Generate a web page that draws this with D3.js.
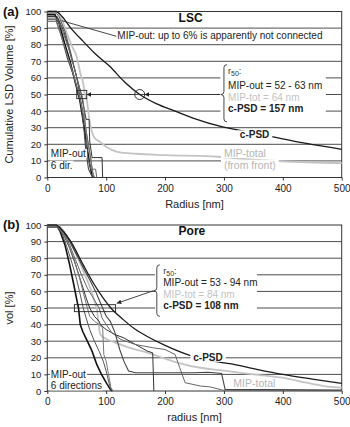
<!DOCTYPE html>
<html><head><meta charset="utf-8">
<script src="https://cdn.jsdelivr.net/npm/d3@7"></script>
<style>
body{margin:0;background:#fff}
svg{display:block}
text{font-family:"Liberation Sans",Arial,Helvetica,sans-serif}
</style>
</head><body>
<svg id="c" width="350" height="427"></svg>
<script>
// ---------- data ----------
const xTicks = [0, 100, 200, 300, 400, 500];
const yTicks = [0, 10, 20, 30, 40, 50, 60, 70, 80, 90, 100];

// Panel (a) LSC
const aCPSD = [[0,100],[15,100],[25,97],[40,90],[61,82],[80,75],[106,67],[130,58],[157,50],[185,44.5],[217,40],[250,35.5],[296,30.6],[340,27.5],[381,24.6],[440,20.5],[500,17]];
const aMIPtotal = [[0,100],[15,100],[25,95],[33,87],[42,79],[50,72.8],[56,63],[61,56.7],[64,50],[67,46.7],[71,36],[75,28.6],[80,24],[89,21.6],[100,18.5],[119,15.5],[150,14.3],[203,13.5],[290,12.5],[340,11],[398,9.8],[500,8.6]];
const aMIPout = [
  [[0,98],[13,98],[20,93],[30,80],[38,71],[47,58],[55,47],[62,32],[67,19],[72,8],[76,1],[78,0]],
  [[0,99],[15,99],[20,97],[30,88],[40,75],[50,60],[55,50],[60,40],[65,30],[70,20],[75,8],[78,2],[80,0]],
  [[0,97],[17,97],[28,88],[38,76],[48,63],[57,51],[62,42],[66,35],[71,35],[72,22],[76,12],[93,12],[94,0]],
  [[0,96],[16,96],[26,88],[36,78],[46,66],[54,55],[60,48],[63,40],[66,25],[68,13],[72,8],[74,5],[82,5],[84,0]],
  [[0,95],[15,95],[24,85],[34,72],[44,62],[52,52],[58,43],[62,30],[65,18],[68,10],[70,5],[74,2],[80,0]],
  [[0,94],[15,94],[22,87],[32,76],[42,65],[50,55],[56,47],[61,38],[66,28],[69,20],[72,15],[74,12],[76,5],[78,0]]
];
const aRect = [50, 67, 47.5, 52.5];
const aLeader = [[24,94.5],[118,85]];
const aCircle = [157, 50];

// Panel (b) Pore
const bCPSD = [[0,100],[15,100],[25,97],[40,90],[61,76],[80,64],[95,56],[108,50],[129,43],[150,37],[169,33],[200,27.5],[242,21.5],[290,17.5],[310,16.5],[350,13.5],[400,10],[450,7.2],[500,4.6]];
const bMIPtotal = [[0,100],[17,100],[28,96],[40,89],[52,80],[64,70],[75,60],[82,52],[84,50],[86,44],[90,34],[104,30.7],[120,28.5],[140,26],[174,22.7],[200,19.5],[225,16.7],[260,14],[293,12.6],[350,10],[406,7.6],[440,5],[470,3],[500,2]];
const bMIPout = [
  [[0,99],[17,99],[22,96],[30,88],[38,76],[45,64],[50,55],[53,50],[56,40],[60,36],[68,30],[76,24],[84,16],[92,10],[100,5],[107,1],[110,0]],
  [[0,99],[17,99],[25,95],[33,87],[42,77],[50,67],[56,58],[61,50],[66,44],[72,37],[80,30],[88,24],[95,18],[100,12],[104,6],[108,1],[111,0]],
  [[0,99],[18,99],[28,94],[38,86],[48,76],[58,65],[66,56],[72,50],[80,45],[88,42],[90,40],[100,37],[115,34],[130,32],[150,28],[170,24],[179,23],[181,0]],
  [[0,99],[18,99],[28,95],[38,88],[48,79],[58,70],[68,62],[78,56],[88,50],[93,44],[100,40],[110,35],[125,31],[150,28],[180,26],[200,25],[217,22],[225,14],[234,5],[260,3],[276,2.5],[298,0.5],[500,0.3]],
  [[0,99],[18,99],[28,96],[38,90],[50,82],[60,75],[72,67],[82,60],[88,55],[94,50],[100,45],[107,42],[115,35],[123,25],[130,18],[138,12],[150,11],[200,11],[250,11],[273,11.3],[296,10.5],[302,1],[500,0.6]],
  [[0,99],[18,99],[26,95],[35,89],[45,80],[55,68],[62,58],[68,50],[72,45],[80,42],[88,40],[94,38],[96,22],[100,18],[105,8],[108,2],[112,0]]
];
const bRect = [46, 116, 47.8, 52];
const bArrow = [[180,60.4],[118,52.8]];

const mipColors = ["#111","#555","#333","#666","#444","#777"];
const mipWidths = [1.6,1,1,1,1.1,1];

// ---------- drawing ----------
const svg = d3.select("#c");
const x = d3.scaleLinear().domain([0,500]).range([47.3,341.7]);

svg.append("defs").append("marker")
  .attr("id","arr").attr("viewBox","0 0 10 10").attr("refX",10).attr("refY",5)
  .attr("markerWidth",5).attr("markerHeight",5).attr("orient","auto-start-reverse")
  .append("path").attr("d","M0,0L10,5L0,10z").attr("fill","#222");

function label(g, px, py, txt, o={}) {
  const t = g.append("text").attr("x",px).attr("y",py)
    .attr("font-size",o.size||10).attr("font-weight",o.bold?"bold":"normal")
    .attr("fill",o.color||"#222").text(txt);
  if (o.bg) {
    const b = t.node().getBBox();
    const p = o.pad||1;
    g.insert("rect", () => t.node())
      .attr("x",b.x-p).attr("y",b.y+1).attr("width",b.width+2*p).attr("height",b.height-2).attr("fill","#fff");
  }
  return t;
}

function brace(g, bx, y1, y2, ty, w) {
  const d = `M${bx+w},${y1} Q${bx},${y1} ${bx},${y1+w} L${bx},${ty-w} Q${bx},${ty} ${bx-w},${ty} Q${bx},${ty} ${bx},${ty+w} L${bx},${y2-w} Q${bx},${y2} ${bx+w},${y2}`;
  g.append("path").attr("d",d).attr("fill","none").attr("stroke","#333").attr("stroke-width",0.9);
}

function panel(cfg) {
  const y = d3.scaleLinear().domain([0,100]).range([cfg.bottom, cfg.top]);
  const g = svg.append("g");
  g.selectAll(".grid").data(yTicks.slice(1,-1)).join("line")
    .attr("x1",x(0)).attr("x2",x(500)).attr("y1",d=>y(d)).attr("y2",d=>y(d))
    .attr("stroke","#4d4d4d").attr("stroke-width",1);
  const ya = g.append("g").attr("transform",`translate(${x(0)},0)`)
    .call(d3.axisLeft(y).tickValues(yTicks).tickSize(3).tickPadding(3));
  ya.select(".domain").remove();
  ya.selectAll("text").attr("font-size",9.5).attr("fill","#222").attr("font-family","Liberation Sans, Arial, sans-serif");
  ya.selectAll("line").attr("stroke","#333");
  const xa = g.append("g").attr("transform",`translate(0,${y(0)})`)
    .call(d3.axisBottom(x).tickValues(xTicks).tickSize(3).tickPadding(4));
  xa.select(".domain").remove();
  xa.selectAll("text").attr("font-size",10).attr("fill","#222").attr("font-family","Liberation Sans, Arial, sans-serif");
  xa.selectAll("line").attr("stroke","#333");
  g.append("rect").attr("x",x(0)).attr("y",y(100)).attr("width",x(500)-x(0)).attr("height",y(0)-y(100))
    .attr("fill","none").attr("stroke","#333").attr("stroke-width",1);

  const line = d3.line().x(d=>x(d[0])).y(d=>y(d[1]));
  const smooth = d3.line().x(d=>x(d[0])).y(d=>y(d[1])).curve(d3.curveMonotoneX);

  g.append("path").datum(cfg.total).attr("d",smooth).attr("fill","none").attr("stroke","#c4c4c4").attr("stroke-width",1.8);
  cfg.out.forEach((s,i)=>{
    g.append("path").datum(s).attr("d",line).attr("fill","none").attr("stroke",mipColors[i]).attr("stroke-width",mipWidths[i]);
  });
  g.append("path").datum(cfg.cpsd).attr("d",smooth).attr("fill","none").attr("stroke","#1a1a1a").attr("stroke-width",1.3);

  const r = cfg.rect;
  g.append("rect").attr("x",x(r[0])).attr("y",y(r[3])).attr("width",x(r[1])-x(r[0])).attr("height",y(r[2])-y(r[3]))
    .attr("fill","none").attr("stroke","#222").attr("stroke-width",0.9);

  g.append("text").attr("transform",`translate(13,${(y(0)+y(100))/2}) rotate(-90)`).attr("text-anchor","middle")
    .attr("font-size",11).attr("fill","#222").text(cfg.ylab);
  g.append("text").attr("x",(x(0)+x(500))/2).attr("y",y(0)+30).attr("text-anchor","middle")
    .attr("font-size",11).attr("fill","#222").text(cfg.xlab);
  g.append("text").attr("x",3).attr("y",cfg.top+4).attr("font-size",13).attr("font-weight","bold")
    .attr("font-family","Liberation Serif, Times New Roman, serif").attr("fill","#111").text(cfg.letter);
  g.append("text").attr("x",x(223)).attr("y",cfg.top+10).attr("font-size",12).attr("font-weight","bold").attr("fill","#111").text(cfg.title);
  return {g, y};
}

// ---- panel a ----
{
  const {g, y} = panel({top:11.5,bottom:177.5,cpsd:aCPSD,total:aMIPtotal,out:aMIPout,rect:aRect,
    ylab:"Cumulative LSD Volume [%]",xlab:"Radius [nm]",letter:"(a)",title:"LSC"});
  g.append("line").attr("x1",x(aLeader[0][0])).attr("y1",y(aLeader[0][1])).attr("x2",x(aLeader[1][0])).attr("y2",y(aLeader[1][1]))
    .attr("stroke","#333").attr("stroke-width",0.9);
  label(g, x(119), y(83.5), "MIP-out: up to 6% is apparently not connected", {size:10,bg:true});
  g.append("circle").attr("cx",x(aCircle[0])).attr("cy",y(aCircle[1])).attr("r",5).attr("fill","none").attr("stroke","#222").attr("stroke-width",0.9);
  g.append("line").attr("x1",x(293)).attr("y1",y(50)).attr("x2",x(aCircle[0])+5).attr("y2",y(50))
    .attr("stroke","#333").attr("stroke-width",0.9).attr("marker-end","url(#arr)");
  g.append("line").attr("x1",x(aCircle[0])-5).attr("y1",y(50)).attr("x2",x(aRect[1])).attr("y2",y(50))
    .attr("stroke","#333").attr("stroke-width",0.9).attr("marker-end","url(#arr)");
  g.append("rect").attr("x",x(294)).attr("y",y(69)).attr("width",x(473)-x(294)).attr("height",y(33)-y(69)).attr("fill","#fff");
  brace(g, x(300), y(68), y(33.5), y(50), 3);
  const t = g.append("text").attr("x",x(307)).attr("y",y(62.5)).attr("font-size",9).attr("fill","#333");
  t.append("tspan").text("r");
  t.append("tspan").attr("dy",2.5).attr("font-size",7).text("50");
  t.append("tspan").attr("dy",-2.5).text(":");
  label(g, x(307), y(53.5), "MIP-out = 52 - 63 nm", {size:10});
  label(g, x(307), y(46.3), "MIP-tot = 64 nm", {size:10,color:"#c4c4c4"});
  label(g, x(307), y(39.3), "c-PSD = 157 nm", {size:10,bold:true});
  label(g, x(327), y(23.6), "c-PSD", {size:10,bold:true,bg:true,pad:3});
  label(g, x(300), y(12.3), "MIP-total", {size:10.5,color:"#b5b5b5",bg:true,pad:3});
  label(g, x(300), y(5.3), "(from front)", {size:10.5,color:"#b5b5b5",bg:true,pad:3});
  label(g, x(6), y(12.3), "MIP-out", {size:10,bg:true,pad:1});
  label(g, x(6), y(5.3), "6 dir.", {size:10,bg:true,pad:1});
}

// ---- panel b ----
{
  const {g, y} = panel({top:225,bottom:391,cpsd:bCPSD,total:bMIPtotal,out:bMIPout,rect:bRect,
    ylab:"vol [%]",xlab:"radius [nm]",letter:"(b)",title:"Pore"});
  g.append("line").attr("x1",x(bArrow[0][0])).attr("y1",y(bArrow[0][1])).attr("x2",x(bArrow[1][0])).attr("y2",y(bArrow[1][1]))
    .attr("stroke","#333").attr("stroke-width",0.9).attr("marker-end","url(#arr)");
  g.append("rect").attr("x",x(183)).attr("y",y(77.5)).attr("width",x(356)-x(183)).attr("height",y(44)-y(77.5)).attr("fill","#fff");
  brace(g, x(186), y(76), y(45), y(60.4), 3);
  const t = g.append("text").attr("x",x(197)).attr("y",y(70.5)).attr("font-size",9).attr("fill","#333");
  t.append("tspan").text("r");
  t.append("tspan").attr("dy",2.5).attr("font-size",7).text("50");
  t.append("tspan").attr("dy",-2.5).text(":");
  label(g, x(197), y(63.5), "MIP-out = 53 - 94 nm", {size:10});
  label(g, x(197), y(56), "MIP-tot = 84 nm", {size:10,color:"#c4c4c4"});
  label(g, x(197), y(49.3), "c-PSD = 108 nm", {size:10,bold:true});
  label(g, x(248), y(18.2), "c-PSD", {size:10,bold:true,bg:true,pad:3});
  label(g, x(316), y(2.4), "MIP-total", {size:10.5,color:"#b5b5b5",bg:true,pad:2});
  label(g, x(6), y(7.8), "MIP-out", {size:10,bg:true,pad:1});
  label(g, x(6), y(1), "6 directions", {size:10,bg:true,pad:1});
}
</script>
</body></html>
